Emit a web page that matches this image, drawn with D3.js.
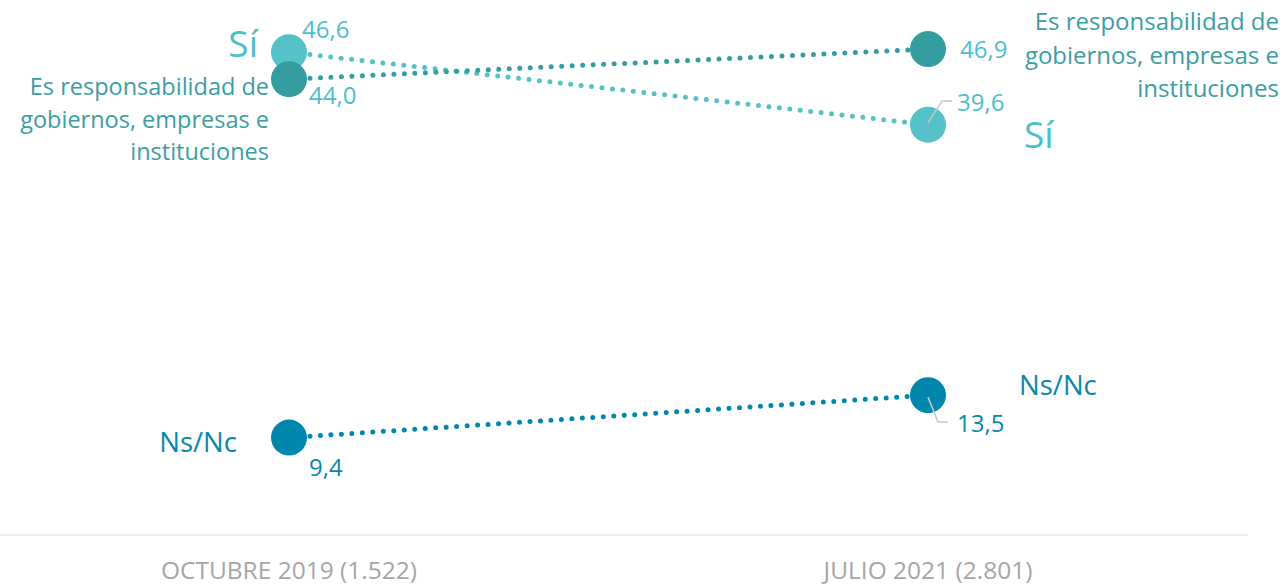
<!DOCTYPE html>
<html>
<head>
<meta charset="utf-8">
<script src="https://cdn.jsdelivr.net/npm/d3@7"></script>
<style>
  html, body { margin: 0; padding: 0; background: #fff; }
  svg { display: block; font-family: "Open Sans", "Noto Sans", sans-serif; }
</style>
</head>
<body>
<svg id="chart" width="1283" height="585"></svg>
<script>
// Survey waves (x axis)
const periods = ["OCTUBRE 2019 (1.522)", "JULIO 2021 (2.801)"];

// Answer series, one value per wave
const seriesNames = ["Sí", "Es responsabilidad de gobiernos, empresas e instituciones", "Ns/Nc"];
const siValues = [46.6, 39.6];
const respValues = [44.0, 46.9];
const nsncValues = [9.4, 13.5];

const colors = {
  "Sí": "#55c2c9",
  "Es responsabilidad de gobiernos, empresas e instituciones": "#339da0",
  "Ns/Nc": "#0187ad"
};
const labelColors = {
  "Sí": "#4cbfcb",
  "Es responsabilidad de gobiernos, empresas e instituciones": "#3a9ea3",
  "Ns/Nc": "#0a87ab"
};

const series = [
  { name: seriesNames[0], values: siValues },
  { name: seriesNames[1], values: respValues },
  { name: seriesNames[2], values: nsncValues }
];

const svg = d3.select("#chart");

const x = d3.scalePoint().domain(periods).range([289, 928]);
const y = d3.scaleLinear().domain([0, 50]).range([535, 17]);
const r = 18;

// Baseline
svg.append("line")
  .attr("x1", 0).attr("x2", 1248)
  .attr("y1", y(0)).attr("y2", y(0))
  .attr("stroke", "#eeeeee").attr("stroke-width", 2);

// Period labels
svg.append("g").selectAll("text")
  .data(periods).join("text")
  .attr("x", d => x(d)).attr("y", 579)
  .attr("text-anchor", "middle")
  .attr("font-size", 24.5)
  .attr("fill", "#a6a6a6")
  .text(d => d);

// Dotted connectors, clipped to the circle edges
const lines = svg.append("g");
series.forEach(s => {
  const x0 = x(periods[0]), y0 = y(s.values[0]);
  const x1 = x(periods[1]), y1 = y(s.values[1]);
  const len = Math.hypot(x1 - x0, y1 - y0);
  const ux = (x1 - x0) / len, uy = (y1 - y0) / len;
  lines.append("line")
    .attr("x1", x0 + ux * (r + 3)).attr("y1", y0 + uy * (r + 3))
    .attr("x2", x1 - ux * (r + 1)).attr("y2", y1 - uy * (r + 1))
    .attr("stroke", colors[s.name])
    .attr("stroke-width", 5)
    .attr("stroke-linecap", "round")
    .attr("stroke-dasharray", "0 10.5");
});

// Leader lines for right-hand value labels
const leaders = [
  { name: "Sí", pts: [[928, y(siValues[1]) - 2], [942, 101], [952, 101]] },
  { name: "Ns/Nc", pts: [[928, y(nsncValues[1]) + 2], [938, 422], [948, 422]] }
];

// Circles (drawn in series order so the darker one sits over the lighter one)
const dots = svg.append("g");
series.forEach(s => {
  dots.selectAll(null)
    .data(s.values.map((v, i) => ({ v, p: periods[i] })))
    .join("circle")
    .attr("cx", d => x(d.p)).attr("cy", d => y(d.v))
    .attr("r", r)
    .attr("fill", colors[s.name]);
});

svg.append("g").selectAll("polyline")
  .data(leaders).join("polyline")
  .attr("points", d => d.pts.map(p => p.join(",")).join(" "))
  .attr("fill", "none")
  .attr("stroke", "#c8c8c8")
  .attr("stroke-width", 1.5);

const fmt = v => d3.format(".1f")(v).replace(".", ",");
const t = svg.append("g");

function label(txt, xx, yy, size, color, anchor) {
  return t.append("text")
    .attr("x", xx).attr("y", yy)
    .attr("font-size", size)
    .attr("fill", color)
    .attr("text-anchor", anchor || "start")
    .text(txt);
}

// Value labels
const vSize = 24;
label(fmt(siValues[0]), 302, 38, vSize, labelColors["Sí"]);
label(fmt(respValues[0]), 309, 104, vSize, labelColors["Sí"]);
label(fmt(nsncValues[0]), 309, 476, vSize, labelColors["Ns/Nc"]);
label(fmt(respValues[1]), 960, 58, vSize, labelColors["Sí"]);
label(fmt(siValues[1]), 957, 111, vSize, labelColors["Sí"]);
label(fmt(nsncValues[1]), 957, 432, vSize, labelColors["Ns/Nc"]);

// Series name labels
label("Sí", 258, 57, 37, labelColors["Sí"], "end");
label("Sí", 1024, 148, 37, labelColors["Sí"]);
label("Ns/Nc", 237, 452, 27.5, labelColors["Ns/Nc"], "end");
label("Ns/Nc", 1019, 395, 27.5, labelColors["Ns/Nc"]);

const respLines = ["Es responsabilidad de", "gobiernos, empresas e", "instituciones"];
respLines.forEach((ln, i) => {
  label(ln, 269, 95 + i * 32.5, 23.5, labelColors[seriesNames[1]], "end");
  label(ln, 1279, 30 + i * 33.5, 24, labelColors[seriesNames[1]], "end");
});
</script>
</body>
</html>
